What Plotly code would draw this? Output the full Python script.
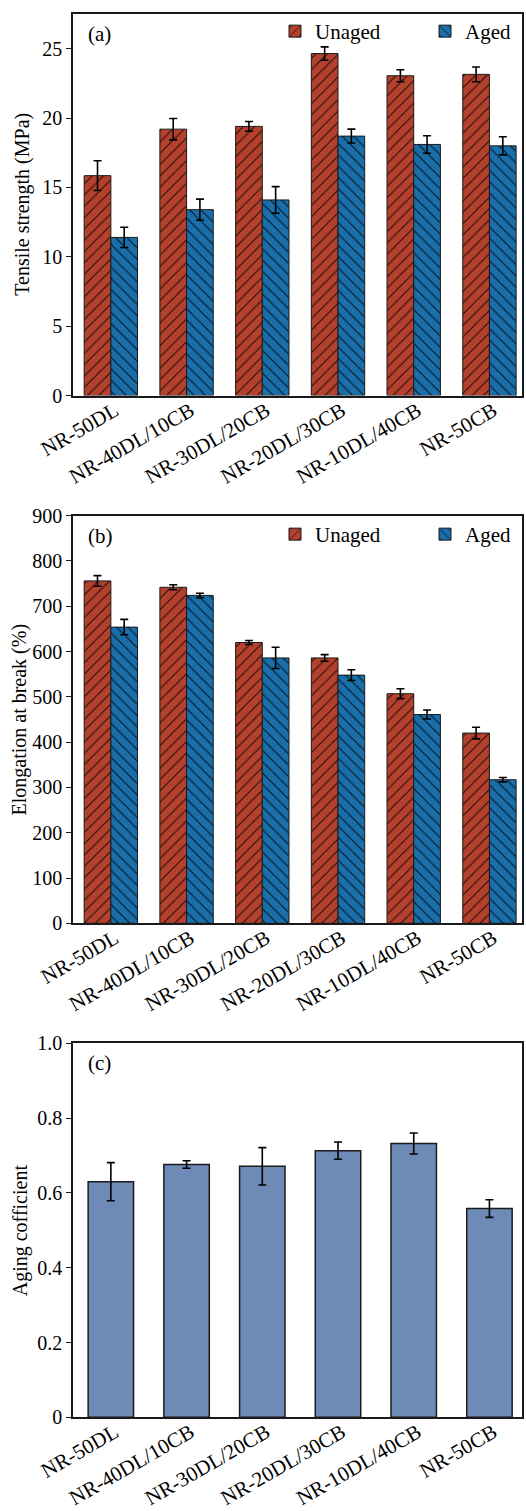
import plotly.graph_objects as go

categories = ["NR-50DL", "NR-40DL/10CB", "NR-30DL/20CB", "NR-20DL/30CB", "NR-10DL/40CB", "NR-50CB"]

tensile_unaged = [15.85, 19.2, 19.4, 24.65, 23.05, 23.15]
tensile_unaged_err = [1.07, 0.77, 0.35, 0.48, 0.43, 0.53]
tensile_aged = [11.4, 13.4, 14.1, 18.7, 18.1, 18.0]
tensile_aged_err = [0.73, 0.76, 0.96, 0.5, 0.63, 0.65]

elong_unaged = [756, 742, 620, 586, 507, 420]
elong_unaged_err = [11.7, 5.5, 4.4, 7.3, 11, 12.8]
elong_aged = [654, 724, 586, 548, 461, 317]
elong_aged_err = [17, 4.8, 23.5, 12, 10, 4.8]

aging_coef = [0.63, 0.676, 0.671, 0.713, 0.732, 0.558]
aging_coef_err = [0.051, 0.01, 0.05, 0.023, 0.028, 0.0235]

tensile_ticks = [0, 5, 10, 15, 20, 25]
elong_ticks = [0, 100, 200, 300, 400, 500, 600, 700, 800, 900]
aging_ticks = [0, 0.2, 0.4, 0.6, 0.8, 1.0]
aging_ticktext = ["0", "0.2", "0.4", "0.6", "0.8", "1.0"]

RED = "#B4412E"
BLUE = "#1A6EAA"
STEEL = "#6E8BB8"
LINE = "#1a1a1a"
FONT = "Times New Roman"
H = 1511


def pattern(shape):
    return dict(shape=shape, fgcolor="#000000", fgopacity=0.85, size=8, solidity=0.12, fillmode="overlay")


def err(vals):
    return dict(type="data", array=vals, visible=True, color="#000000", thickness=1.6, width=4)


fig = go.Figure()

fig.add_trace(go.Bar(x=categories, y=tensile_unaged, error_y=err(tensile_unaged_err), name="Unaged",
                     marker=dict(color=RED, line=dict(color=LINE, width=1), pattern=pattern("/")),
                     xaxis="x", yaxis="y", legend="legend", offsetgroup="u"))
fig.add_trace(go.Bar(x=categories, y=tensile_aged, error_y=err(tensile_aged_err), name="Aged",
                     marker=dict(color=BLUE, line=dict(color=LINE, width=1), pattern=pattern("\\")),
                     xaxis="x", yaxis="y", legend="legend3", offsetgroup="a"))
fig.add_trace(go.Bar(x=categories, y=elong_unaged, error_y=err(elong_unaged_err), name="Unaged",
                     marker=dict(color=RED, line=dict(color=LINE, width=1), pattern=pattern("/")),
                     xaxis="x2", yaxis="y2", legend="legend2", offsetgroup="u"))
fig.add_trace(go.Bar(x=categories, y=elong_aged, error_y=err(elong_aged_err), name="Aged",
                     marker=dict(color=BLUE, line=dict(color=LINE, width=1), pattern=pattern("\\")),
                     xaxis="x2", yaxis="y2", legend="legend4", offsetgroup="a"))
fig.add_trace(go.Bar(x=categories, y=aging_coef, error_y=err(aging_coef_err), name="Aging coefficient",
                     marker=dict(color=STEEL, line=dict(color=LINE, width=1.5)), width=0.6,
                     xaxis="x3", yaxis="y3", showlegend=False))


def px2dom(top, bottom):
    return [1 - bottom / H, 1 - top / H]


dom_a = px2dom(14, 395.6)
dom_b = px2dom(515.7, 923.3)
dom_c = px2dom(1043.3, 1417.3)

xcommon = dict(range=[-0.5, 5.43], showline=True, linecolor=LINE, linewidth=1.5, mirror=True,
               ticks="", tickangle=-30, tickfont=dict(family=FONT, size=21, color="#000"),
               ticklabelstandoff=-7, ticklabelshift=4,
               showgrid=False, zeroline=False, automargin=False, fixedrange=True)
ycommon = dict(showline=True, linecolor=LINE, linewidth=1.5, mirror=True, ticks="outside", ticklen=5,
               tickwidth=1.2, tickcolor=LINE, tickfont=dict(family=FONT, size=20, color="#000"),
               showgrid=False, zeroline=False, automargin=False)

legfont = dict(family=FONT, size=21, color="#000")
titlefont = dict(family=FONT, size=20, color="#000")


def leg(xpx, ypx):
    return dict(orientation="h", x=(xpx - 73) / 449, xanchor="left", y=1 - ypx / H, yanchor="top",
                font=legfont, bgcolor="rgba(0,0,0,0)")


def ytitle(text, yref, xpx):
    return dict(text=text, xref="paper", yref=yref, x=(xpx - 73) / 449, y=0.5, xanchor="center",
                yanchor="middle", textangle=-90, showarrow=False, font=titlefont)


def panel_label(text, xref, yref):
    return dict(text=text, xref=xref, yref=yref, x=0.03, y=0.985, xanchor="left", yanchor="top",
                showarrow=False, font=legfont)


fig.update_layout(
    width=526, height=H,
    margin=dict(l=73, r=4, t=0, b=0),
    paper_bgcolor="white", plot_bgcolor="white",
    barmode="group", bargap=0.295, bargroupgap=0,
    font=dict(family=FONT, color="#000"),
    xaxis=dict(xcommon, anchor="y"),
    xaxis2=dict(xcommon, anchor="y2"),
    xaxis3=dict(xcommon, anchor="y3"),
    yaxis=dict(ycommon, domain=dom_a, anchor="x", range=[0, 27.5], tickvals=tensile_ticks),
    yaxis2=dict(ycommon, domain=dom_b, anchor="x2", range=[0, 900], tickvals=elong_ticks),
    yaxis3=dict(ycommon, domain=dom_c, anchor="x3", range=[0, 1.0], tickvals=aging_ticks,
                ticktext=aging_ticktext),
    legend=leg(275, 11),
    legend3=leg(425, 11),
    legend2=leg(275, 514),
    legend4=leg(425, 514),
    annotations=[
        panel_label("(a)", "x domain", "y domain"),
        panel_label("(b)", "x2 domain", "y2 domain"),
        panel_label("(c)", "x3 domain", "y3 domain"),
        ytitle("Tensile strength (MPa)", "y domain", 23),
        ytitle("Elongation at break (%)", "y2 domain", 19),
        ytitle("Aging cofficient", "y3 domain", 20),
    ],
)

fig.write_html("out.html")
